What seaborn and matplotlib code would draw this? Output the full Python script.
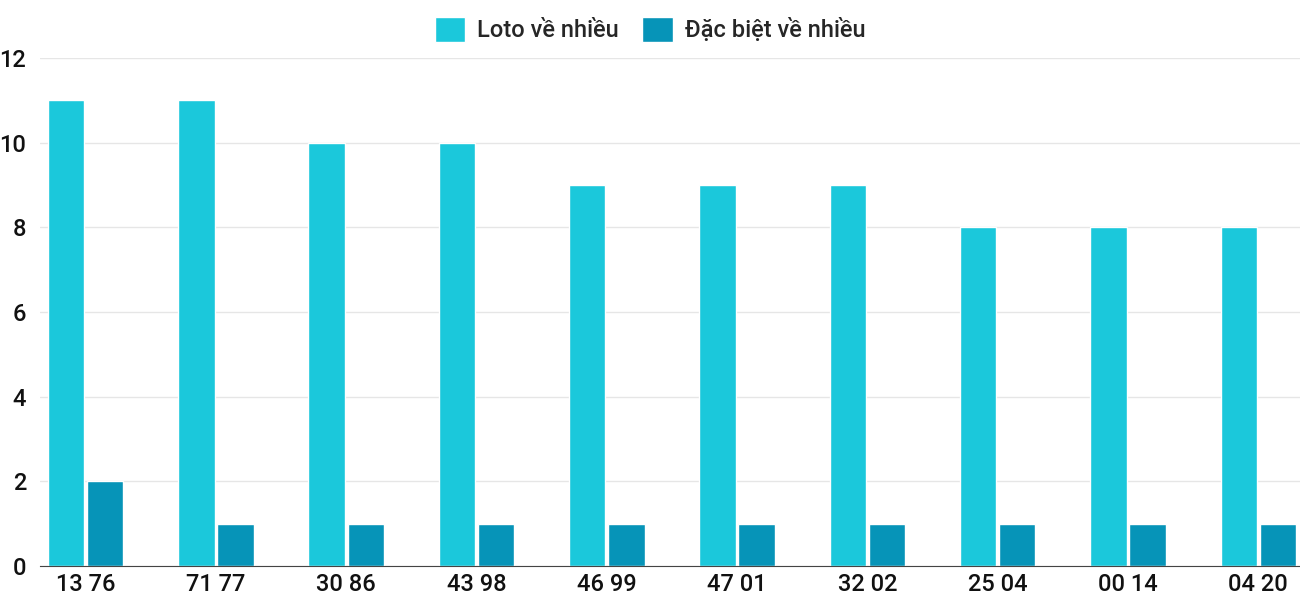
import matplotlib
matplotlib.use("Agg")
import matplotlib.pyplot as plt
import seaborn as sns
import pandas as pd

# dữ liệu
pairs = ["13 76", "71 77", "30 86", "43 98", "46 99", "47 01", "32 02", "25 04", "00 14", "04 20"]
loto = [11, 11, 10, 10, 9, 9, 9, 8, 8, 8]
dacbiet = [2, 1, 1, 1, 1, 1, 1, 1, 1, 1]
series = ["Loto về nhiều", "Đặc biệt về nhiều"]
colors = ["#1bc8db", "#0694b8"]

df = pd.DataFrame({
    "pair": pairs * 2,
    "value": loto + dacbiet,
    "series": [series[0]] * len(pairs) + [series[1]] * len(pairs),
})

sns.set_style("white")
plt.rcParams["font.family"] = ["Roboto", "DejaVu Sans"]
plt.rcParams["font.weight"] = "medium"

fig = plt.figure(figsize=(13, 6), dpi=100)
ax = fig.add_axes([40 / 1300, 34 / 600, 1260 / 1300, 508 / 600])
sns.barplot(data=df, x="pair", y="value", hue="series", palette=colors,
            saturation=1, width=0.6, gap=0.07, ax=ax, legend=True)

ax.set_xlim(-0.35, 9.32)
ax.set_ylim(0, 12)
ax.set_yticks(range(0, 13, 2))
ax.yaxis.grid(True, color="#e6e6e6", linewidth=1)
ax.set_axisbelow(True)
for s in ["left", "right", "top"]:
    ax.spines[s].set_visible(False)
ax.spines["bottom"].set_color("#444444")
ax.set_xlabel("")
ax.set_ylabel("")
ax.tick_params(axis="x", labelsize=17, length=0, pad=5, colors="#111111")
ax.tick_params(axis="y", labelsize=17, length=0, pad=10, colors="#111111")

ax.legend(loc="upper center", bbox_to_anchor=(0.5, 1.0), bbox_transform=fig.transFigure,
          ncol=2, frameon=False, fontsize=17, handlelength=1.3, handleheight=1.3,
          columnspacing=1.0, handletextpad=0.5, borderaxespad=0.3)

fig.savefig("out.png", dpi=100)
